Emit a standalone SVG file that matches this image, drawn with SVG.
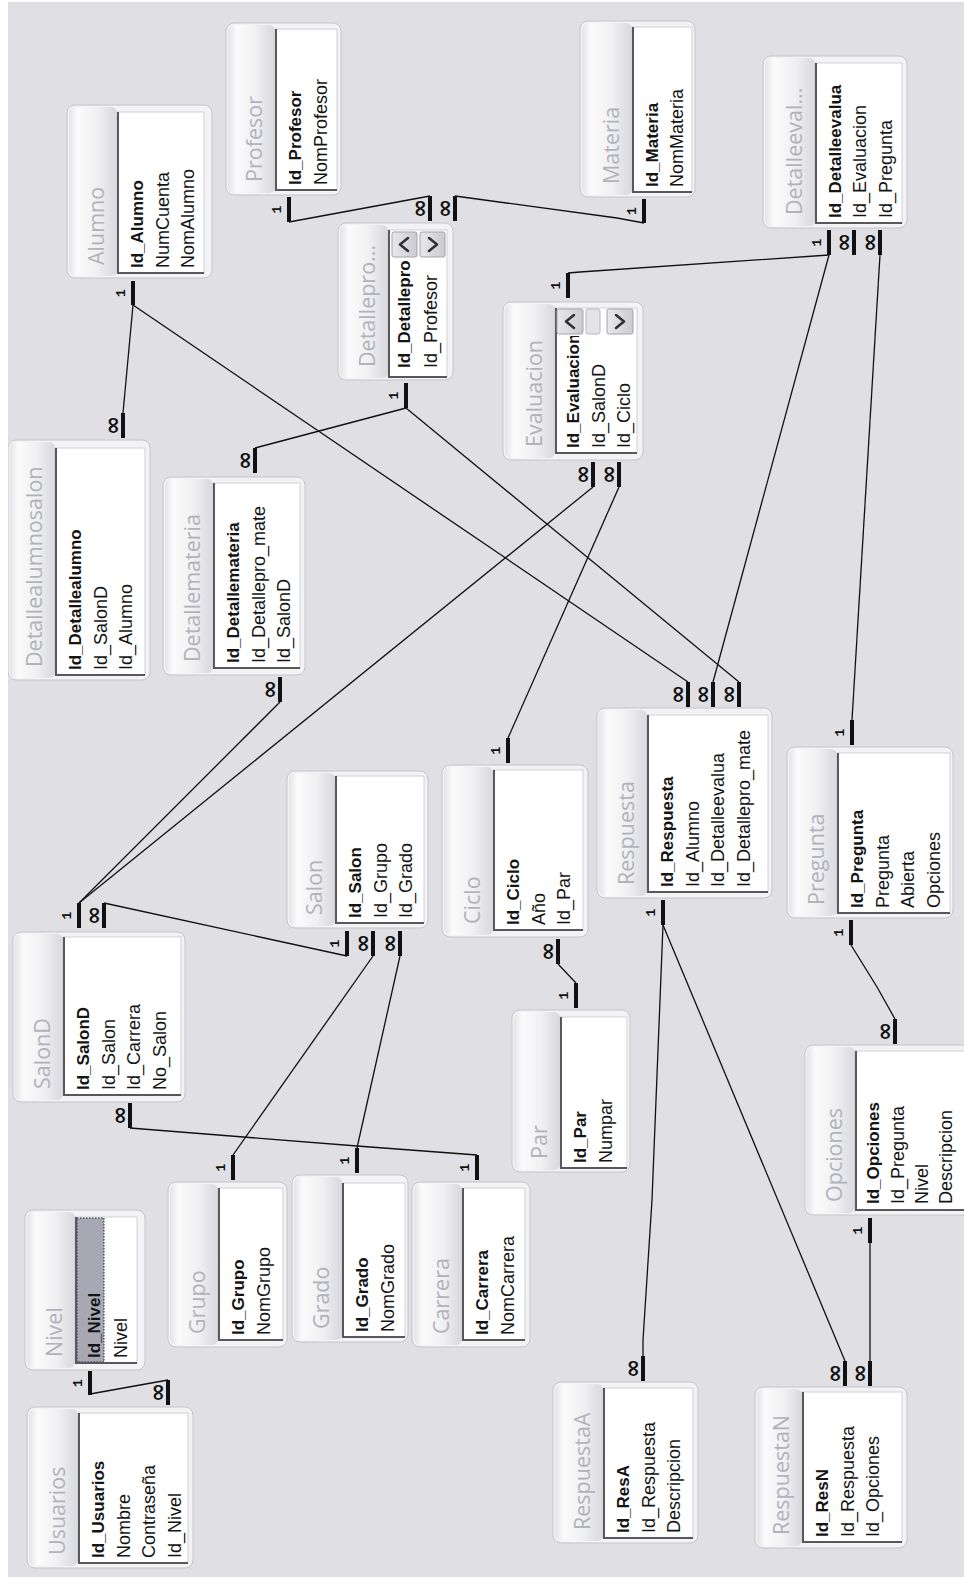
<svg xmlns="http://www.w3.org/2000/svg" width="964" height="1585" viewBox="0 0 964 1585">
  <defs>
    <linearGradient id="stripGrad" x1="0" y1="0" x2="1" y2="0">
      <stop offset="0" stop-color="#e4e4e8"/>
      <stop offset="0.18" stop-color="#fbfbfb"/>
      <stop offset="0.6" stop-color="#f0f0f2"/>
      <stop offset="1" stop-color="#d8d8dd"/>
    </linearGradient>
    <linearGradient id="btnGrad" x1="0" y1="0" x2="1" y2="0">
      <stop offset="0" stop-color="#e8e8ec"/>
      <stop offset="1" stop-color="#cacad0"/>
    </linearGradient>
    <clipPath id="evalClip">
      <rect x="555" y="336" width="82" height="117"/>
    </clipPath>
    <clipPath id="pageClip">
      <rect x="8" y="2" width="956" height="1575"/>
    </clipPath>
  </defs>
  <style>
    .outer{fill:#f3f3f5;stroke:#c4c4ca;stroke-width:1}
    .strip{fill:url(#stripGrad)}
    .panel{fill:#ffffff;stroke:#d2d2d6;stroke-width:1}
    .sunk{fill:none;stroke:#58585c;stroke-width:2}
    .title{font-family:"Open Sans","Liberation Sans",sans-serif;font-size:21.5px;fill:#b2b2ba}
    .f{font-family:"Liberation Sans",Arial,sans-serif;font-size:18px;fill:#141414}
    .k{font-weight:bold;font-size:17px}
    .btn{fill:url(#btnGrad);stroke:#a4a4ac;stroke-width:1}
    .thumb{fill:#e4e4e8;stroke:#b8b8c0;stroke-width:1}
    .chev{fill:none;stroke:#303034;stroke-width:2.5;stroke-linecap:round;stroke-linejoin:round}
    .sel{fill:#a8a8b4;stroke:#222;stroke-width:1;stroke-dasharray:1.5 1.5}
    .ln{fill:none;stroke:#111;stroke-width:1.3}
    .stub{fill:none;stroke:#111;stroke-width:4}
    .one{font-family:"Liberation Mono",monospace;font-weight:bold;font-size:13px;fill:#111;text-anchor:middle;dominant-baseline:central}
    .many{font-family:"DejaVu Sans",sans-serif;font-weight:bold;font-size:23px;fill:#111;text-anchor:middle;dominant-baseline:central}
  </style>

  <!-- canvas -->
  <rect x="0" y="0" width="964" height="1585" fill="#ffffff"/>
  <rect x="8" y="2" width="956" height="1575" fill="#e0e0e4"/>

  <g id="tables" clip-path="url(#pageClip)">
    <g id="alumno">
      <rect class="outer" x="67" y="105" width="145" height="173" rx="8"/>
      <rect class="strip" x="69" y="107" width="48" height="169" rx="6"/>
      <rect class="panel" x="117" y="112" width="87" height="161"/>
      <path class="sunk" d="M118,112V273H204"/>
      <text class="title" transform="translate(104,265) rotate(-90)">Alumno</text>
      <text class="f k" transform="translate(143,268) rotate(-90)">Id_Alumno</text>
      <text class="f" transform="translate(169,268) rotate(-90)">NumCuenta</text>
      <text class="f" transform="translate(194,268) rotate(-90)">NomAlumno</text>
    </g>

    <g id="profesor">
      <rect class="outer" x="226" y="23" width="115" height="172" rx="8"/>
      <rect class="strip" x="228" y="25" width="47" height="168" rx="6"/>
      <rect class="panel" x="275" y="29" width="62" height="161"/>
      <path class="sunk" d="M276,29V190H337"/>
      <text class="title" transform="translate(262,182) rotate(-90)">Profesor</text>
      <text class="f k" transform="translate(301,185) rotate(-90)">Id_Profesor</text>
      <text class="f" transform="translate(327,185) rotate(-90)">NomProfesor</text>
    </g>

    <g id="detallepro">
      <rect class="outer" x="338" y="223" width="115" height="157" rx="8"/>
      <rect class="strip" x="340" y="225" width="48" height="153" rx="6"/>
      <rect class="panel" x="388" y="230" width="59" height="147"/>
      <path class="sunk" d="M389,230V377H447"/>
      <rect class="btn" x="392" y="232" width="25" height="25" rx="2"/>
      <path class="chev" d="M408,238L400,244.5L408,251"/>
      <rect class="btn" x="420" y="232" width="25" height="25" rx="2"/>
      <path class="chev" d="M429,238L437,244.5L429,251"/>
      <text class="title" transform="translate(375,367) rotate(-90)">Detallepro...</text>
      <text class="f k" transform="translate(410,368) rotate(-90)">Id_Detallepro</text>
      <text class="f" transform="translate(437,368) rotate(-90)">Id_Profesor</text>
    </g>

    <g id="materia">
      <rect class="outer" x="580" y="21" width="115" height="176" rx="8"/>
      <rect class="strip" x="582" y="23" width="50" height="172" rx="6"/>
      <rect class="panel" x="632" y="27" width="60" height="165"/>
      <path class="sunk" d="M633,27V192H692"/>
      <text class="title" transform="translate(619,184) rotate(-90)">Materia</text>
      <text class="f k" transform="translate(658,187) rotate(-90)">Id_Materia</text>
      <text class="f" transform="translate(683,187) rotate(-90)">NomMateria</text>
    </g>

    <g id="detalleevalua">
      <rect class="outer" x="763" y="56" width="144" height="172" rx="8"/>
      <rect class="strip" x="765" y="58" width="50" height="168" rx="6"/>
      <rect class="panel" x="815" y="63" width="87" height="160"/>
      <path class="sunk" d="M816,63V223H902"/>
      <text class="title" transform="translate(802,215) rotate(-90)">Detalleeval...</text>
      <text class="f k" transform="translate(841,218) rotate(-90)">Id_Detalleevalua</text>
      <text class="f" transform="translate(866,218) rotate(-90)">Id_Evaluacion</text>
      <text class="f" transform="translate(892,218) rotate(-90)">Id_Pregunta</text>
    </g>

    <g id="evaluacion">
      <rect class="outer" x="503" y="302" width="140" height="158" rx="8"/>
      <rect class="strip" x="505" y="304" width="50" height="154" rx="6"/>
      <rect class="panel" x="555" y="308" width="82" height="145"/>
      <path class="sunk" d="M556,308V453H637"/>
      <rect class="btn" x="557" y="309" width="26" height="25" rx="2"/>
      <path class="chev" d="M574,315L566,321.5L574,328"/>
      <rect class="thumb" x="586" y="309" width="14" height="25" rx="2"/>
      <rect class="btn" x="607" y="309" width="26" height="25" rx="2"/>
      <path class="chev" d="M616,315L624,321.5L616,328"/>
      <text class="title" transform="translate(542,447) rotate(-90)">Evaluacion</text>
      <g clip-path="url(#evalClip)">
        <text class="f k" transform="translate(579,448) rotate(-90)">Id_Evaluacion</text>
      </g>
      <text class="f" transform="translate(605,448) rotate(-90)">Id_SalonD</text>
      <text class="f" transform="translate(630,448) rotate(-90)">Id_Ciclo</text>
    </g>

    <g id="detallealumnosalon">
      <rect class="outer" x="8" y="440" width="142" height="240" rx="8"/>
      <rect class="strip" x="10" y="442" width="45" height="236" rx="6"/>
      <rect class="panel" x="55" y="448" width="90" height="227"/>
      <path class="sunk" d="M56,448V675H145"/>
      <text class="title" transform="translate(42,667) rotate(-90)">Detallealumnosalon</text>
      <text class="f k" transform="translate(81,670) rotate(-90)">Id_Detallealumno</text>
      <text class="f" transform="translate(107,670) rotate(-90)">Id_SalonD</text>
      <text class="f" transform="translate(132,670) rotate(-90)">Id_Alumno</text>
    </g>

    <g id="detallemateria">
      <rect class="outer" x="163" y="477" width="142" height="198" rx="8"/>
      <rect class="strip" x="165" y="479" width="48" height="194" rx="6"/>
      <rect class="panel" x="213" y="483" width="87" height="185"/>
      <path class="sunk" d="M214,483V668H300"/>
      <text class="title" transform="translate(200,662) rotate(-90)">Detallemateria</text>
      <text class="f k" transform="translate(239,663) rotate(-90)">Id_Detallemateria</text>
      <text class="f" transform="translate(265,663) rotate(-90)">Id_Detallepro_mate</text>
      <text class="f" transform="translate(290,663) rotate(-90)">Id_SalonD</text>
    </g>

    <g id="salon">
      <rect class="outer" x="287" y="771" width="141" height="157" rx="8"/>
      <rect class="strip" x="289" y="773" width="46" height="153" rx="6"/>
      <rect class="panel" x="335" y="776" width="89" height="147"/>
      <path class="sunk" d="M336,776V923H424"/>
      <text class="title" transform="translate(322,915) rotate(-90)">Salon</text>
      <text class="f k" transform="translate(361,918) rotate(-90)">Id_Salon</text>
      <text class="f" transform="translate(387,918) rotate(-90)">Id_Grupo</text>
      <text class="f" transform="translate(412,918) rotate(-90)">Id_Grado</text>
    </g>

    <g id="ciclo">
      <rect class="outer" x="442" y="765" width="146" height="172" rx="8"/>
      <rect class="strip" x="444" y="767" width="49" height="168" rx="6"/>
      <rect class="panel" x="493" y="770" width="90" height="160"/>
      <path class="sunk" d="M494,770V930H583"/>
      <text class="title" transform="translate(480,924) rotate(-90)">Ciclo</text>
      <text class="f k" transform="translate(519,925) rotate(-90)">Id_Ciclo</text>
      <text class="f" transform="translate(545,925) rotate(-90)">Año</text>
      <text class="f" transform="translate(570,925) rotate(-90)">Id_Par</text>
    </g>

    <g id="respuesta">
      <rect class="outer" x="597" y="708" width="175" height="190" rx="8"/>
      <rect class="strip" x="599" y="710" width="48" height="186" rx="6"/>
      <rect class="panel" x="647" y="715" width="121" height="177"/>
      <path class="sunk" d="M648,715V892H768"/>
      <text class="title" transform="translate(634,885) rotate(-90)">Respuesta</text>
      <text class="f k" transform="translate(673,887) rotate(-90)">Id_Respuesta</text>
      <text class="f" transform="translate(699,887) rotate(-90)">Id_Alumno</text>
      <text class="f" transform="translate(724,887) rotate(-90)">Id_Detalleevalua</text>
      <text class="f" transform="translate(750,887) rotate(-90)">Id_Detallepro_mate</text>
    </g>

    <g id="pregunta">
      <rect class="outer" x="787" y="747" width="166" height="171" rx="8"/>
      <rect class="strip" x="789" y="749" width="48" height="167" rx="6"/>
      <rect class="panel" x="837" y="753" width="113" height="160"/>
      <path class="sunk" d="M838,753V913H950"/>
      <text class="title" transform="translate(824,905) rotate(-90)">Pregunta</text>
      <text class="f k" transform="translate(863,908) rotate(-90)">Id_Pregunta</text>
      <text class="f" transform="translate(889,908) rotate(-90)">Pregunta</text>
      <text class="f" transform="translate(914,908) rotate(-90)">Abierta</text>
      <text class="f" transform="translate(940,908) rotate(-90)">Opciones</text>
    </g>

    <g id="salond">
      <rect class="outer" x="13" y="932" width="172" height="170" rx="8"/>
      <rect class="strip" x="15" y="934" width="48" height="166" rx="6"/>
      <rect class="panel" x="63" y="937" width="118" height="158"/>
      <path class="sunk" d="M64,937V1095H181"/>
      <text class="title" transform="translate(50,1089) rotate(-90)">SalonD</text>
      <text class="f k" transform="translate(89,1090) rotate(-90)">Id_SalonD</text>
      <text class="f" transform="translate(115,1090) rotate(-90)">Id_Salon</text>
      <text class="f" transform="translate(140,1090) rotate(-90)">Id_Carrera</text>
      <text class="f" transform="translate(166,1090) rotate(-90)">No_Salon</text>
    </g>

    <g id="par">
      <rect class="outer" x="512" y="1010" width="118" height="162" rx="8"/>
      <rect class="strip" x="514" y="1012" width="46" height="158" rx="6"/>
      <rect class="panel" x="560" y="1017" width="67" height="151"/>
      <path class="sunk" d="M561,1017V1168H627"/>
      <text class="title" transform="translate(547,1159) rotate(-90)">Par</text>
      <text class="f k" transform="translate(586,1163) rotate(-90)">Id_Par</text>
      <text class="f" transform="translate(612,1163) rotate(-90)">Numpar</text>
    </g>

    <g id="opciones">
      <rect class="outer" x="805" y="1045" width="165" height="170" rx="8"/>
      <rect class="strip" x="807" y="1047" width="48" height="166" rx="6"/>
      <rect class="panel" x="855" y="1051" width="115" height="159"/>
      <path class="sunk" d="M856,1051V1210H964"/>
      <text class="title" transform="translate(842,1202) rotate(-90)">Opciones</text>
      <text class="f k" transform="translate(879,1204) rotate(-90)">Id_Opciones</text>
      <text class="f" transform="translate(904,1204) rotate(-90)">Id_Pregunta</text>
      <text class="f" transform="translate(928,1204) rotate(-90)">Nivel</text>
      <text class="f" transform="translate(952,1204) rotate(-90)">Descripcion</text>
    </g>

    <g id="grupo">
      <rect class="outer" x="168" y="1182" width="119" height="165" rx="8"/>
      <rect class="strip" x="170" y="1184" width="48" height="161" rx="6"/>
      <rect class="panel" x="218" y="1188" width="65" height="152"/>
      <path class="sunk" d="M219,1188V1340H283"/>
      <text class="title" transform="translate(205,1334) rotate(-90)">Grupo</text>
      <text class="f k" transform="translate(244,1335) rotate(-90)">Id_Grupo</text>
      <text class="f" transform="translate(270,1335) rotate(-90)">NomGrupo</text>
    </g>

    <g id="grado">
      <rect class="outer" x="292" y="1175" width="116" height="167" rx="8"/>
      <rect class="strip" x="294" y="1177" width="48" height="163" rx="6"/>
      <rect class="panel" x="342" y="1183" width="63" height="154"/>
      <path class="sunk" d="M343,1183V1337H405"/>
      <text class="title" transform="translate(329,1329) rotate(-90)">Grado</text>
      <text class="f k" transform="translate(368,1332) rotate(-90)">Id_Grado</text>
      <text class="f" transform="translate(394,1332) rotate(-90)">NomGrado</text>
    </g>

    <g id="carrera">
      <rect class="outer" x="412" y="1182" width="118" height="165" rx="8"/>
      <rect class="strip" x="414" y="1184" width="48" height="161" rx="6"/>
      <rect class="panel" x="462" y="1188" width="63" height="152"/>
      <path class="sunk" d="M463,1188V1340H525"/>
      <text class="title" transform="translate(449,1334) rotate(-90)">Carrera</text>
      <text class="f k" transform="translate(488,1335) rotate(-90)">Id_Carrera</text>
      <text class="f" transform="translate(514,1335) rotate(-90)">NomCarrera</text>
    </g>

    <g id="nivel">
      <rect class="outer" x="25" y="1210" width="120" height="160" rx="8"/>
      <rect class="strip" x="27" y="1212" width="48" height="156" rx="6"/>
      <rect class="panel" x="75" y="1217" width="62" height="146"/>
      <rect class="sel" x="77" y="1218" width="27" height="144"/>
      <path class="sunk" d="M76,1217V1363H137"/>
      <text class="title" transform="translate(62,1357) rotate(-90)">Nivel</text>
      <text class="f k" transform="translate(100,1358) rotate(-90)">Id_Nivel</text>
      <text class="f" transform="translate(127,1358) rotate(-90)">Nivel</text>
    </g>

    <g id="usuarios">
      <rect class="outer" x="27" y="1407" width="166" height="161" rx="8"/>
      <rect class="strip" x="29" y="1409" width="49" height="157" rx="6"/>
      <rect class="panel" x="78" y="1413" width="110" height="150"/>
      <path class="sunk" d="M79,1413V1563H188"/>
      <text class="title" transform="translate(65,1555) rotate(-90)">Usuarios</text>
      <text class="f k" transform="translate(104,1558) rotate(-90)">Id_Usuarios</text>
      <text class="f" transform="translate(130,1558) rotate(-90)">Nombre</text>
      <text class="f" transform="translate(155,1558) rotate(-90)">Contraseña</text>
      <text class="f" transform="translate(181,1558) rotate(-90)">Id_Nivel</text>
    </g>

    <g id="respuestaA">
      <rect class="outer" x="553" y="1382" width="145" height="161" rx="8"/>
      <rect class="strip" x="555" y="1384" width="48" height="157" rx="6"/>
      <rect class="panel" x="603" y="1388" width="90" height="150"/>
      <path class="sunk" d="M604,1388V1538H693"/>
      <text class="title" transform="translate(590,1530) rotate(-90)">RespuestaA</text>
      <text class="f k" transform="translate(629,1533) rotate(-90)">Id_ResA</text>
      <text class="f" transform="translate(655,1533) rotate(-90)">Id_Respuesta</text>
      <text class="f" transform="translate(680,1533) rotate(-90)">Descripcion</text>
    </g>

    <g id="respuestaN">
      <rect class="outer" x="755" y="1387" width="152" height="161" rx="8"/>
      <rect class="strip" x="757" y="1389" width="45" height="157" rx="6"/>
      <rect class="panel" x="802" y="1392" width="100" height="150"/>
      <path class="sunk" d="M803,1392V1542H902"/>
      <text class="title" transform="translate(789,1535) rotate(-90)">RespuestaN</text>
      <text class="f k" transform="translate(828,1537) rotate(-90)">Id_ResN</text>
      <text class="f" transform="translate(854,1537) rotate(-90)">Id_Respuesta</text>
      <text class="f" transform="translate(879,1537) rotate(-90)">Id_Opciones</text>
    </g>
  </g>

  <g id="connectors">
    <!-- relationship lines -->
    <path class="ln" d="M289,222L430,196"/>
    <path class="ln" d="M455,196L617,218L644,223"/>
    <path class="ln" d="M406,408L255,448"/>
    <path class="ln" d="M406,408L739,682"/>
    <path class="ln" d="M133,305L123,413"/>
    <path class="ln" d="M133,305L688,682"/>
    <path class="ln" d="M568,273L580,272L829,255"/>
    <path class="ln" d="M829,255L713,682"/>
    <path class="ln" d="M880,255L852,720"/>
    <path class="ln" d="M593,487L79,903"/>
    <path class="ln" d="M280,702L79,903"/>
    <path class="ln" d="M619,487L508,738"/>
    <path class="ln" d="M104,903L347,956"/>
    <path class="ln" d="M373,956L233,1155"/>
    <path class="ln" d="M400,956L357,1148"/>
    <path class="ln" d="M130,1128L357,1146L477,1155"/>
    <path class="ln" d="M558,964L576,983"/>
    <path class="ln" d="M663,925L652,1200L643,1340L643,1356"/>
    <path class="ln" d="M663,925L845,1361"/>
    <path class="ln" d="M870,1243L870,1361"/>
    <path class="ln" d="M851,945L877,987L895,1019"/>
    <path class="ln" d="M90,1394L168,1380"/>

    <!-- end stubs -->
    <path class="stub" d="M289,197V222M430,196V221M455,196V221M644,199V223M406,383V408M255,448V473M280,677V702M133,281V305M123,413V438M829,230V255M854,230V255M880,230V255M568,273V298M593,462V487M619,462V487M688,682V707M713,682V707M739,682V707M663,900V925M852,720V745M851,920V945M895,1019V1044M870,1218V1243M508,738V763M558,939V964M576,983V1008M79,903V928M104,903V928M130,1103V1128M347,931V956M373,931V956M400,931V956M233,1155V1180M357,1148V1173M477,1155V1180M90,1371V1395M168,1380V1405M643,1356V1381M845,1361V1386M870,1361V1386"/>

    <!-- cardinality marks -->
    <text class="one" transform="translate(277.5,209.5) rotate(-90)">1</text>
    <text class="many" transform="translate(418.5,208.5) rotate(-90)">∞</text>
    <text class="many" transform="translate(443.5,208.5) rotate(-90)">∞</text>
    <text class="one" transform="translate(632.5,211) rotate(-90)">1</text>
    <text class="one" transform="translate(394.5,395.5) rotate(-90)">1</text>
    <text class="many" transform="translate(243.5,460.5) rotate(-90)">∞</text>
    <text class="many" transform="translate(268.5,689.5) rotate(-90)">∞</text>
    <text class="one" transform="translate(121.5,293) rotate(-90)">1</text>
    <text class="many" transform="translate(111.5,425.5) rotate(-90)">∞</text>
    <text class="one" transform="translate(817.5,242.5) rotate(-90)">1</text>
    <text class="many" transform="translate(842.5,242.5) rotate(-90)">∞</text>
    <text class="many" transform="translate(868.5,242.5) rotate(-90)">∞</text>
    <text class="one" transform="translate(556.5,285.5) rotate(-90)">1</text>
    <text class="many" transform="translate(581.5,474.5) rotate(-90)">∞</text>
    <text class="many" transform="translate(607.5,474.5) rotate(-90)">∞</text>
    <text class="many" transform="translate(676.5,694.5) rotate(-90)">∞</text>
    <text class="many" transform="translate(701.5,694.5) rotate(-90)">∞</text>
    <text class="many" transform="translate(727.5,694.5) rotate(-90)">∞</text>
    <text class="one" transform="translate(651.5,912.5) rotate(-90)">1</text>
    <text class="one" transform="translate(840.5,732.5) rotate(-90)">1</text>
    <text class="one" transform="translate(839.5,932.5) rotate(-90)">1</text>
    <text class="many" transform="translate(883.5,1031.5) rotate(-90)">∞</text>
    <text class="one" transform="translate(858.5,1230.5) rotate(-90)">1</text>
    <text class="one" transform="translate(496.5,750.5) rotate(-90)">1</text>
    <text class="many" transform="translate(546.5,951.5) rotate(-90)">∞</text>
    <text class="one" transform="translate(564.5,995.5) rotate(-90)">1</text>
    <text class="one" transform="translate(67.5,915.5) rotate(-90)">1</text>
    <text class="many" transform="translate(92.5,915.5) rotate(-90)">∞</text>
    <text class="many" transform="translate(118.5,1115.5) rotate(-90)">∞</text>
    <text class="one" transform="translate(335.5,943.5) rotate(-90)">1</text>
    <text class="many" transform="translate(361.5,943.5) rotate(-90)">∞</text>
    <text class="many" transform="translate(388.5,943.5) rotate(-90)">∞</text>
    <text class="one" transform="translate(221.5,1167.5) rotate(-90)">1</text>
    <text class="one" transform="translate(345.5,1160.5) rotate(-90)">1</text>
    <text class="one" transform="translate(465.5,1167.5) rotate(-90)">1</text>
    <text class="one" transform="translate(78.5,1383) rotate(-90)">1</text>
    <text class="many" transform="translate(156.5,1392.5) rotate(-90)">∞</text>
    <text class="many" transform="translate(631.5,1368.5) rotate(-90)">∞</text>
    <text class="many" transform="translate(833.5,1373.5) rotate(-90)">∞</text>
    <text class="many" transform="translate(858.5,1373.5) rotate(-90)">∞</text>
  </g>
</svg>
